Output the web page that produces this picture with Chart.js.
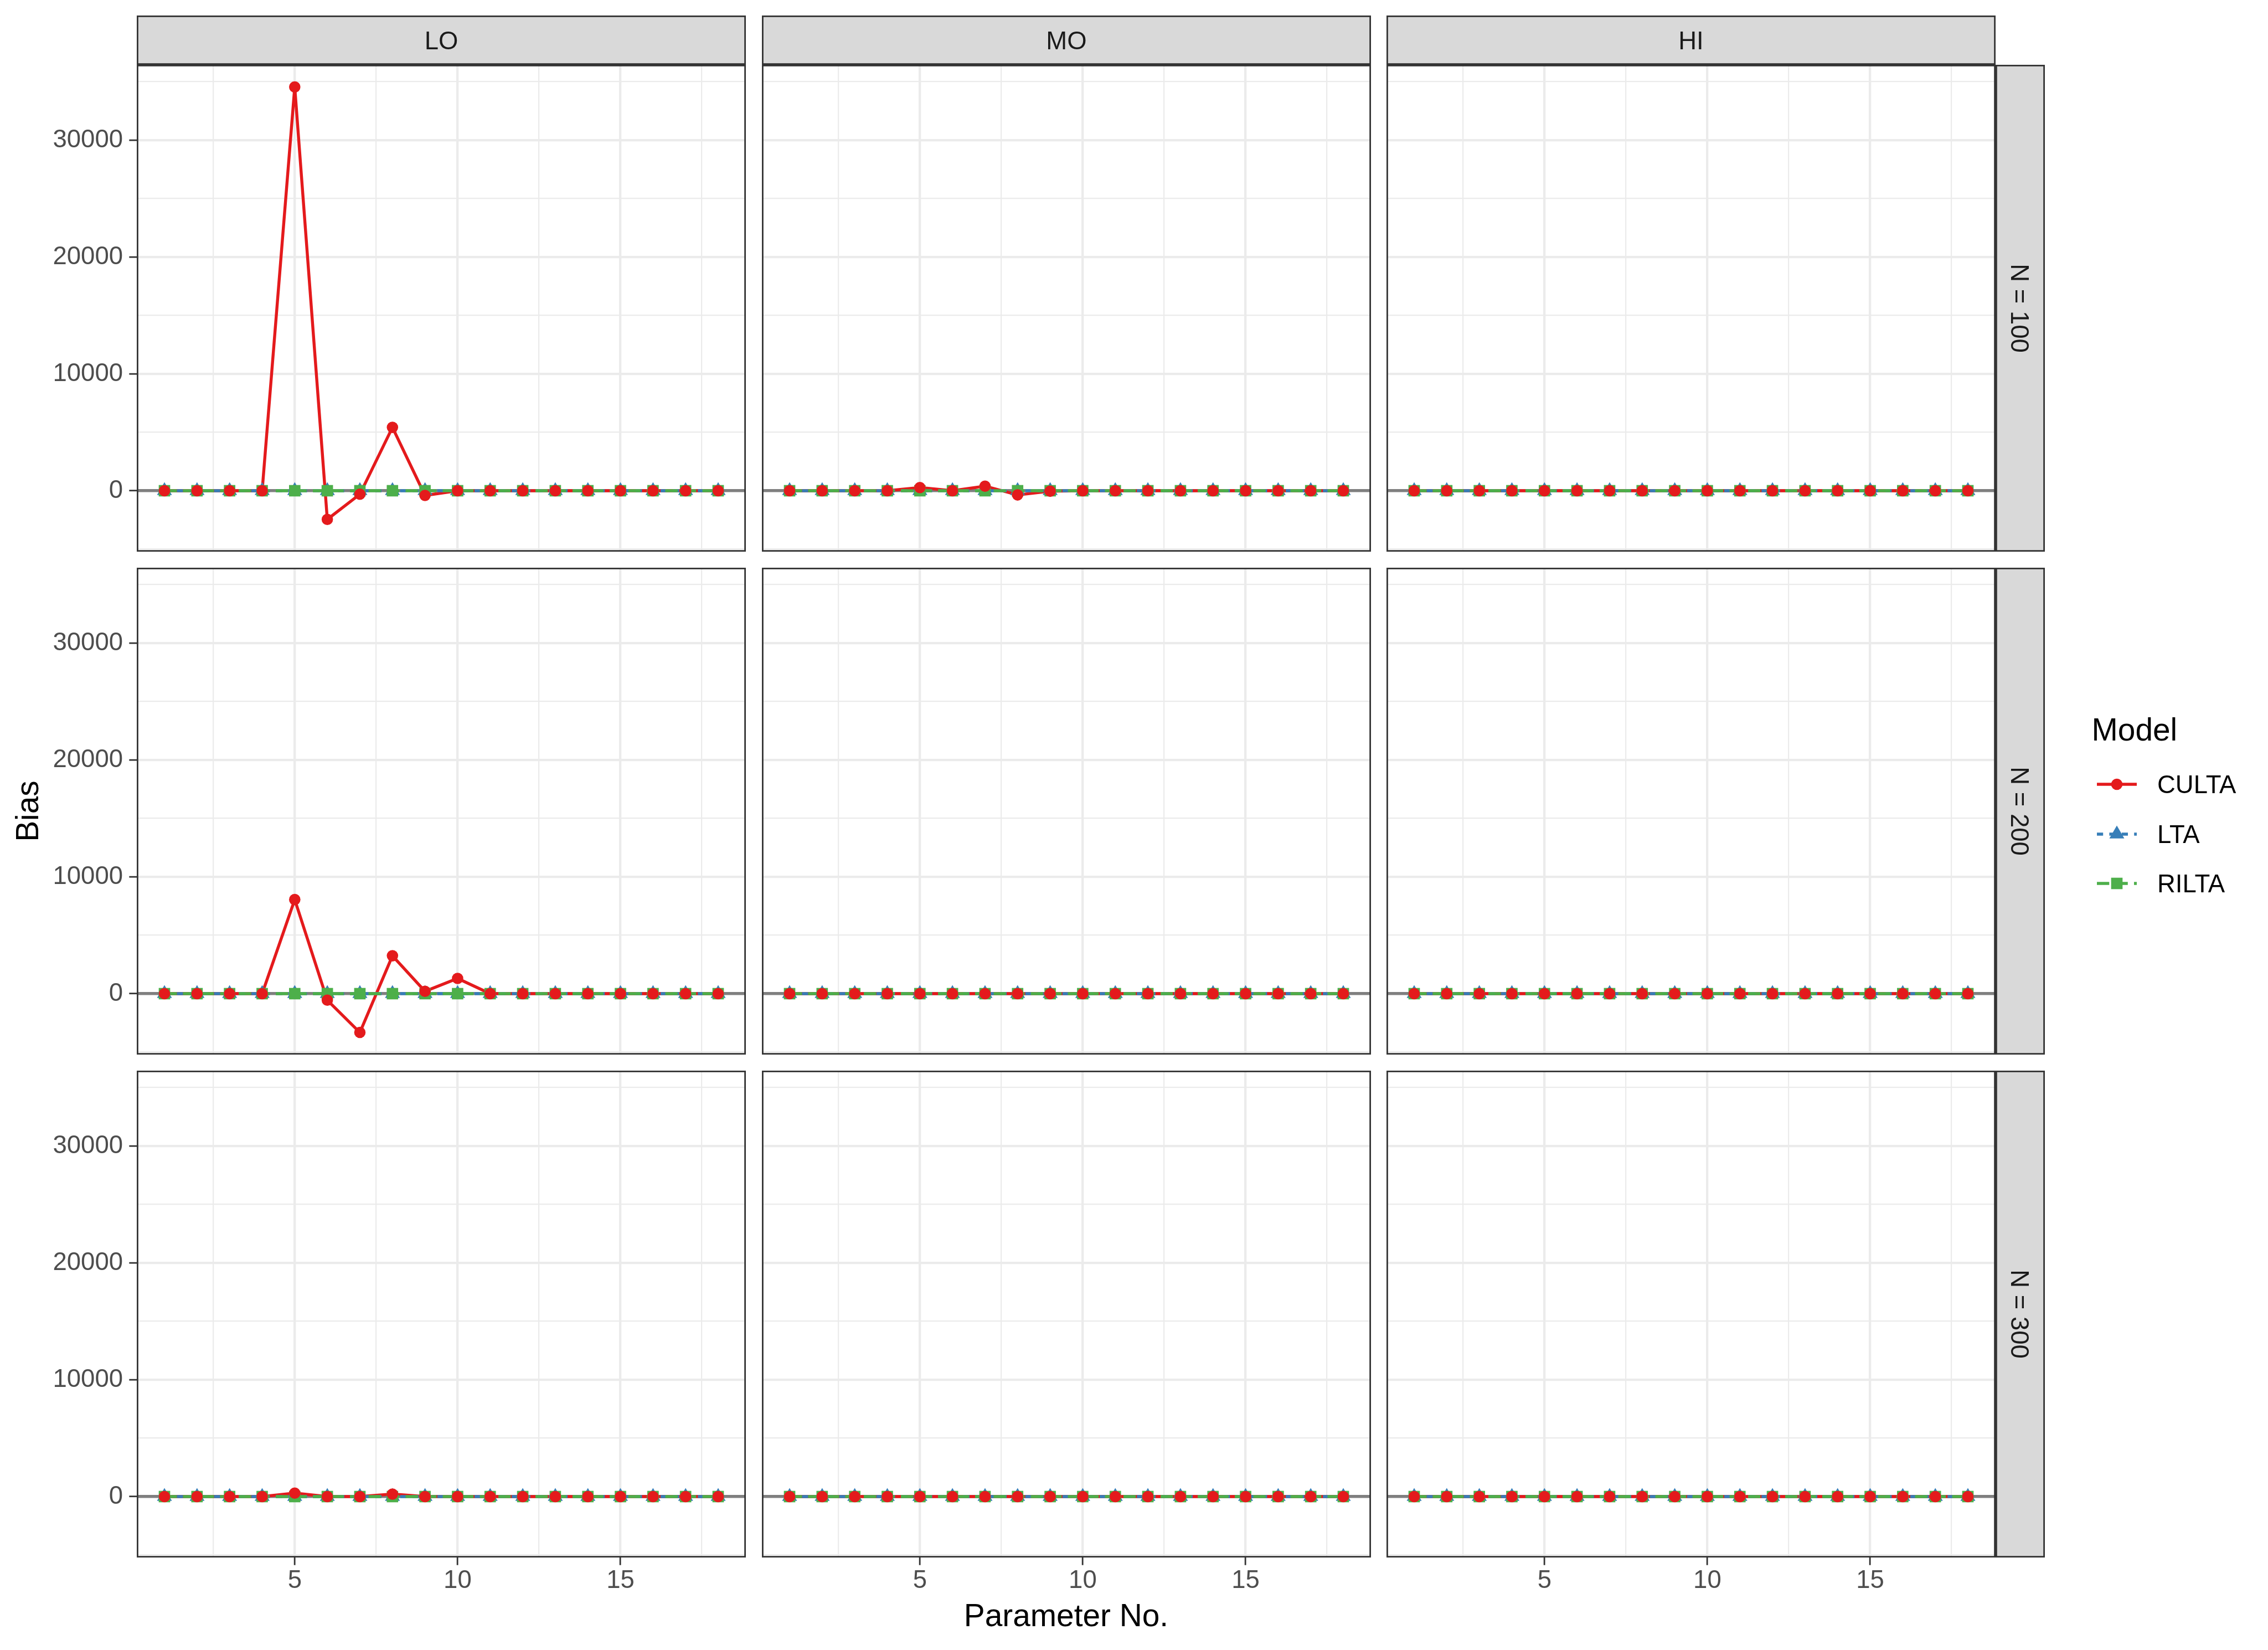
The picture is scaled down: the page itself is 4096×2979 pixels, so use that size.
<!DOCTYPE html>
<html>
<head>
<meta charset="utf-8">
<script src="https://cdn.jsdelivr.net/npm/chart.js@4.4.1/dist/chart.umd.min.js"></script>
<style>
html,body{margin:0;padding:0;background:#ffffff;}
#root{position:relative;width:4096px;height:2979px;overflow:hidden;background:#ffffff;}
#root canvas{position:absolute;}
#overlay{position:absolute;left:0;top:0;}
</style>
</head>
<body>
<div id="root"></div>
<script>
// ---------------- DATA ----------------
const paramNo = [1,2,3,4,5,6,7,8,9,10,11,12,13,14,15,16,17,18];
const models = ['CULTA','LTA','RILTA'];
const overlapLevels = ['LO','MO','HI'];
const sizeLevels = ['N = 100','N = 200','N = 300'];
const xMajorTicks = [5,10,15];
const xMinorTicks = [2.5,7.5,12.5,17.5];
const yMajorTicks = [0,10000,20000,30000];
const yMinorTicks = [-5000,5000,15000,25000,35000];

// CULTA bias, one array per panel (overlap x sample size)
const culta_LO_N100 = [0,0,0,0,34550,-2450,-300,5420,-400,0,0,0,0,0,0,0,0,0];
const culta_MO_N100 = [0,0,0,0,275,0,390,-360,-40,0,0,0,0,0,0,0,0,0];
const culta_HI_N100 = [0,0,0,0,0,0,0,0,0,0,0,0,0,0,0,0,0,0];
const culta_LO_N200 = [0,0,0,0,8050,-560,-3320,3240,200,1300,0,0,0,0,0,0,0,0];
const culta_MO_N200 = [0,0,0,0,0,0,0,0,0,0,0,0,0,0,0,0,0,0];
const culta_HI_N200 = [0,0,0,0,0,0,0,0,0,0,0,0,0,0,0,0,0,0];
const culta_LO_N300 = [0,0,0,0,295,0,0,216,0,0,0,0,0,0,0,0,0,0];
const culta_MO_N300 = [0,0,0,0,0,0,0,0,0,0,0,0,0,0,0,0,0,0];
const culta_HI_N300 = [0,0,0,0,0,0,0,0,0,0,0,0,0,0,0,0,0,0];
// LTA and RILTA bias (essentially zero in every panel)
const lta_bias   = [0,0,0,0,0,0,0,0,0,0,0,0,0,0,0,0,0,0];
const rilta_bias = [0,0,0,0,0,0,0,0,0,0,0,0,0,0,0,0,0,0];

// ---------------- STYLE / LAYOUT ----------------
const FONT = '"Liberation Sans", Arial, Helvetica, sans-serif';
const COLORS = {CULTA:'#E41A1C', LTA:'#377EB8', RILTA:'#4DAF4A'};
const DASH = {CULTA:[], LTA:[11.2,11.2], RILTA:[22.3,11.2]};
const PSTYLE = {CULTA:'circle', LTA:'triangle', RILTA:'rect'};
const PRADIUS = {CULTA:10.3, LTA:15.6, RILTA:14.6};
const LINE_W = 5.4;
const colL = [247,1376,2504], colR = [1347,2476,3604];
const rowT = [117,1025,1933], rowB = [996,1904,2812];
const STRIP_TOP = 28, STRIP_RIGHT = 3693;
const Y_AXIS_W = 247, X_AXIS_H = 90;
const TICK_LEN = 13.7, TICK_W = 2.8, BORDER_W = 2.8;
const MAJOR_W = 4.3, MINOR_W = 2.2, ZERO_W = 5.4;
const TICK_FONT = 45.5, TITLE_FONT = 56.8;

const panelData = [
  [culta_LO_N100, culta_MO_N100, culta_HI_N100],
  [culta_LO_N200, culta_MO_N200, culta_HI_N200],
  [culta_LO_N300, culta_MO_N300, culta_HI_N300]
];

// ggplot-like 5% expansion of the data range
const allVals = [].concat(...panelData.flat(), lta_bias, rilta_bias);
const dMin = Math.min(...allVals), dMax = Math.max(...allVals);
const yMin = dMin - 0.05*(dMax-dMin), yMax = dMax + 0.05*(dMax-dMin);
const pMin = Math.min(...paramNo), pMax = Math.max(...paramNo);
const xMin = pMin - 0.05*(pMax-pMin), xMax = pMax + 0.05*(pMax-pMin);

Chart.defaults.font.family = FONT;

const panelBorder = {
  id:'panelBorder',
  afterDraw(chart){
    const {ctx, chartArea:a} = chart;
    ctx.save();
    ctx.strokeStyle = '#333333';
    ctx.lineWidth = BORDER_W;
    ctx.strokeRect(a.left+BORDER_W/2, a.top+BORDER_W/2, a.right-a.left-BORDER_W, a.bottom-a.top-BORDER_W);
    ctx.restore();
  }
};

function toPoints(vals){ return paramNo.map((p,i)=>({x:p, y:vals[i]})); }

function lineDs(model, vals, order){
  return {label:model+' line', data:toPoints(vals), order:order, showLine:true,
    borderColor:COLORS[model], borderWidth:LINE_W, borderDash:DASH[model], borderCapStyle:'butt',
    pointRadius:0, fill:false, tension:0};
}
function pointDs(model, vals, order){
  return {label:model, data:toPoints(vals), order:order, showLine:false,
    pointStyle:PSTYLE[model], pointRadius:PRADIUS[model], pointBackgroundColor:COLORS[model],
    pointBorderWidth:0, pointBorderColor:COLORS[model], backgroundColor:COLORS[model]};
}

function makeScales(showX, showY){
  return {
    x:{
      type:'linear', position:'bottom', min:xMin, max:xMax,
      afterBuildTicks:(s)=>{ s.ticks = xMinorTicks.concat(xMajorTicks).sort((a,b)=>a-b).map(v=>({value:v})); },
      afterFit:(s)=>{ s.height = showX ? X_AXIS_H : 0; s.paddingLeft=0; s.paddingRight=0; s.paddingTop=0; s.paddingBottom=0; },
      border:{display:false},
      grid:{
        color:'#EBEBEB',
        lineWidth:(c)=> (c.tick && xMajorTicks.includes(c.tick.value)) ? MAJOR_W : MINOR_W,
        drawTicks:showX, tickLength:TICK_LEN, tickWidth:TICK_W,
        tickColor:(c)=> (c.tick && xMajorTicks.includes(c.tick.value)) ? '#333333' : 'rgba(0,0,0,0)'
      },
      ticks:{display:showX, autoSkip:false, maxRotation:0, minRotation:0, padding:1, color:'#4D4D4D',
        font:{family:FONT, size:TICK_FONT},
        callback:(v)=> xMajorTicks.includes(v) ? String(v) : ''}
    },
    y:{
      type:'linear', position:'left', min:yMin, max:yMax,
      afterBuildTicks:(s)=>{ s.ticks = yMinorTicks.concat(yMajorTicks).sort((a,b)=>a-b).map(v=>({value:v})); },
      afterFit:(s)=>{ s.width = showY ? Y_AXIS_W : 0; s.paddingLeft=0; s.paddingRight=0; s.paddingTop=0; s.paddingBottom=0; },
      border:{display:false},
      grid:{
        color:(c)=> (c.tick && c.tick.value === 0) ? '#7F7F7F' : '#EBEBEB',
        lineWidth:(c)=> !c.tick ? MINOR_W : (c.tick.value === 0 ? ZERO_W : (yMajorTicks.includes(c.tick.value) ? MAJOR_W : MINOR_W)),
        drawTicks:showY, tickLength:TICK_LEN, tickWidth:TICK_W,
        tickColor:(c)=> (c.tick && yMajorTicks.includes(c.tick.value)) ? '#333333' : 'rgba(0,0,0,0)'
      },
      ticks:{display:showY, autoSkip:false, padding:11.3, color:'#4D4D4D',
        font:{family:FONT, size:TICK_FONT},
        callback:(v)=> yMajorTicks.includes(v) ? String(v) : ''}
    }
  };
}

const root = document.getElementById('root');

for (let r=0; r<3; r++){
  for (let c=0; c<3; c++){
    const showY = (c===0), showX = (r===2);
    const left = showY ? 0 : colL[c];
    const top = rowT[r];
    const w = colR[c] - left;
    const h = rowB[r] - rowT[r] + (showX ? X_AXIS_H : 0);
    const cv = document.createElement('canvas');
    cv.width = w; cv.height = h;
    cv.style.left = left+'px'; cv.style.top = top+'px';
    cv.style.width = w+'px'; cv.style.height = h+'px';
    root.appendChild(cv);
    const vals = panelData[r][c];
    new Chart(cv.getContext('2d'), {
      type:'line',
      data:{datasets:[
        pointDs('CULTA', vals, 0),
        pointDs('RILTA', rilta_bias, 1),
        pointDs('LTA', lta_bias, 2),
        lineDs('RILTA', rilta_bias, 3),
        lineDs('LTA', lta_bias, 4),
        lineDs('CULTA', vals, 5)
      ]},
      options:{
        responsive:false, maintainAspectRatio:false, animation:false, devicePixelRatio:1,
        events:[],
        layout:{padding:0, autoPadding:false},
        plugins:{legend:{display:false}, tooltip:{enabled:false}, title:{display:false}},
        scales:makeScales(showX, showY)
      },
      plugins:[panelBorder]
    });
  }
}

// ---------------- OVERLAY: strips, titles, legend ----------------
const CAP = 0.716;
let svg = '<svg id="overlay" xmlns="http://www.w3.org/2000/svg" width="4096" height="2979" font-family=\'' + FONT.replace(/"/g,'&quot;') + '\'>';
const sw = BORDER_W;
for (let c=0; c<3; c++){
  svg += `<rect x="${colL[c]+sw/2}" y="${STRIP_TOP+sw/2}" width="${colR[c]-colL[c]-sw}" height="${rowT[0]-STRIP_TOP-sw}" fill="#D9D9D9" stroke="#333333" stroke-width="${sw}"/>`;
  const cx = (colL[c]+colR[c])/2, cy = (STRIP_TOP+rowT[0])/2;
  svg += `<text x="${cx}" y="${cy + CAP*TICK_FONT/2}" text-anchor="middle" font-size="${TICK_FONT}" fill="#1A1A1A">${overlapLevels[c]}</text>`;
}
for (let r=0; r<3; r++){
  svg += `<rect x="${colR[2]+sw/2}" y="${rowT[r]+sw/2}" width="${STRIP_RIGHT-colR[2]-sw}" height="${rowB[r]-rowT[r]-sw}" fill="#D9D9D9" stroke="#333333" stroke-width="${sw}"/>`;
  const cx = (colR[2]+STRIP_RIGHT)/2, cy = (rowT[r]+rowB[r])/2;
  svg += `<text x="${cx}" y="${cy}" dy="${CAP*TICK_FONT/2}" transform="rotate(90 ${cx} ${cy})" text-anchor="middle" font-size="${TICK_FONT}" fill="#1A1A1A">${sizeLevels[r]}</text>`;
}
// axis titles
const yTitleX = 69.4, yTitleY = (rowT[0]+rowB[2])/2;
svg += `<text x="${yTitleX}" y="${yTitleY}" transform="rotate(-90 ${yTitleX} ${yTitleY})" text-anchor="middle" font-size="${TITLE_FONT}" fill="#000000">Bias</text>`;
svg += `<text x="${(colL[0]+colR[2])/2}" y="2935.7" text-anchor="middle" font-size="${TITLE_FONT}" fill="#000000">Parameter No.</text>`;
// legend
svg += `<text x="3777.5" y="1337" font-size="${TITLE_FONT}" fill="#000000">Model</text>`;
const keyY = [1416, 1506, 1595];
const kx0 = 3787, kx1 = 3859, kcx = (kx0+kx1)/2;
models.forEach((m,i)=>{
  const y = keyY[i];
  const dash = DASH[m].length ? ` stroke-dasharray="${DASH[m].join(' ')}"` : '';
  svg += `<line x1="${kx0}" y1="${y}" x2="${kx1}" y2="${y}" stroke="${COLORS[m]}" stroke-width="${LINE_W}"${dash}/>`;
  if (PSTYLE[m]==='circle'){
    svg += `<circle cx="${kcx}" cy="${y}" r="${PRADIUS[m]}" fill="${COLORS[m]}"/>`;
  } else if (PSTYLE[m]==='triangle'){
    const rr = PRADIUS[m], hw = rr*Math.sin(Math.PI*2/3);
    svg += `<polygon points="${kcx},${y-rr} ${kcx-hw},${y+rr/2} ${kcx+hw},${y+rr/2}" fill="${COLORS[m]}"/>`;
  } else {
    const s = PRADIUS[m]*Math.SQRT1_2;
    svg += `<rect x="${kcx-s}" y="${y-s}" width="${2*s}" height="${2*s}" fill="${COLORS[m]}"/>`;
  }
  svg += `<text x="3896" y="${y + CAP*TICK_FONT/2}" font-size="${TICK_FONT}" fill="#000000">${m}</text>`;
});
svg += '</svg>';
root.insertAdjacentHTML('beforeend', svg);
</script>
</body>
</html>
